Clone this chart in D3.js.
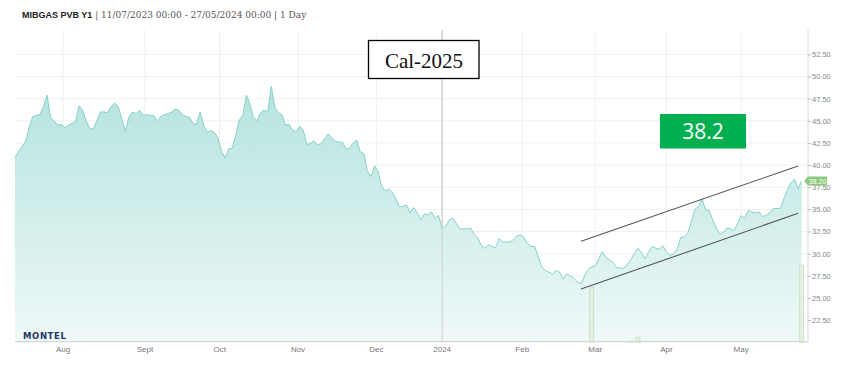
<!DOCTYPE html>
<html><head><meta charset="utf-8">
<script src="https://cdn.jsdelivr.net/npm/d3@7/dist/d3.min.js"></script>
<style>body{margin:0;background:#fff}svg{display:block}</style>
</head><body><svg id="c" width="845" height="368"></svg>
<script>
// Daily closing prices (EUR/MWh), one per trading day, 11/07/2023 - 27/05/2024
const prices = [
40.9,41.5,42.1,42.7,44.3,45.5,45.6,45.7,46.6,47.9,45.3,45.0,44.5,44.6,44.2,44.5,44.7,44.9,46.7,46.2,
45.0,44.1,44.1,45.0,46.0,46.0,45.9,46.6,47.0,46.6,45.2,43.8,45.4,46.0,45.8,46.2,45.6,45.7,45.6,45.6,
45.0,45.5,45.7,45.8,46.0,46.3,46.2,45.7,45.5,45.4,44.7,44.6,46.0,44.5,43.7,43.9,43.7,43.1,41.6,40.8,
41.8,41.9,43.3,45.1,45.6,47.9,46.9,45.4,45.0,45.9,46.2,46.0,48.9,46.5,45.9,45.7,44.5,44.6,43.9,43.8,
44.4,43.9,42.3,42.5,42.7,42.3,42.4,43.0,43.5,43.1,42.7,42.6,42.6,41.8,41.9,42.5,42.8,41.5,41.3,39.3,
38.7,39.9,39.3,37.6,37.1,37.3,36.9,36.2,35.3,35.3,35.5,34.6,35.2,34.6,33.8,34.5,34.4,34.7,34.0,34.3,
32.8,33.1,33.8,34.0,33.4,32.8,32.8,32.8,32.9,32.2,31.8,30.9,30.6,31.0,30.8,30.7,31.7,31.3,31.3,31.3,
31.6,32.0,32.1,31.8,31.1,30.8,30.8,29.6,28.5,28.1,27.9,27.7,28.1,27.9,27.1,27.7,27.5,27.2,26.8,26.6,
27.5,28.2,28.5,28.6,29.4,30.2,29.6,29.3,29.0,28.4,28.4,28.3,28.8,29.3,30.0,30.6,30.1,29.4,30.2,30.8,
30.6,30.5,30.9,30.2,29.8,30.0,30.5,31.8,31.9,32.3,33.6,35.0,35.3,36.2,34.9,34.9,33.8,32.9,32.2,32.4,
32.9,32.8,32.6,33.4,34.3,34.0,34.9,34.7,34.6,34.7,34.2,34.3,34.6,35.1,35.1,35.1,36.2,37.2,38.0,38.4,
37.3,38.2
];
// Volume bars: trading-day index and volume
const volumeDays = [162, 173, 175, 221];
const volumeValues = [55, 1, 5, 77];
// Month tick labels and their trading-day positions
const monthLabels = ["Aug","Sept","Oct","Nov","Dec","2024","Feb","Mar","Apr","May"];
const monthDays = [13.5, 36.5, 57.5, 79.5, 101.5, 120, 142.5, 163, 183, 204];
const yTicks = [22.5,25,27.5,30,32.5,35,37.5,40,42.5,45,47.5,50,52.5];
// Channel trend lines: [startDay, startValue, endDay, endValue]
const upperTrend = [159, 31.4, 220, 39.9];
const lowerTrend = [159, 26.0, 220, 34.55];
const titleBold = "MIBGAS PVB Y1";
const titleRest = " | 11/07/2023 00:00 - 27/05/2024 00:00 | 1 Day";
const calLabel = "Cal-2025";
const lastLabel = "38.2";

const svg = d3.select("#c");
const L = 15, R = 808, T = 32.2, B = 342.2;
const x = d3.scaleLinear().domain([0, prices.length - 1]).range([L, 801.7]);
const y = d3.scaleLinear().domain([20, 55]).range([B, T]);
const yv = d3.scaleLinear().domain([0, 100]).range([0, 100]);

// gradient
const defs = svg.append("defs");
const g = defs.append("linearGradient").attr("id","ag").attr("x1",0).attr("y1",0).attr("x2",0).attr("y2",1)
  .attr("gradientUnits","userSpaceOnUse").attr("y1", 85).attr("y2", B);
g.append("stop").attr("offset","0%").attr("stop-color","#b4e3de");
g.append("stop").attr("offset","100%").attr("stop-color","#eff9f8");

// grid
svg.append("g").selectAll("line").data(yTicks).join("line")
  .attr("x1", L).attr("x2", R).attr("y1", d => y(d)).attr("y2", d => y(d))
  .attr("stroke", "#f0f0f0").attr("stroke-width", 1);
svg.append("g").selectAll("line").data(monthDays).join("line")
  .attr("x1", d => x(d)).attr("x2", d => x(d)).attr("y1", 30).attr("y2", B)
  .attr("stroke", (d,i) => monthLabels[i] === "2024" ? "#d0d0d0" : "#efefef").attr("stroke-width", 1);

// area + line
const area = d3.area().x((d,i) => x(i)).y0(B).y1(d => y(d));
svg.append("path").datum(prices).attr("d", area).attr("fill", "url(#ag)");
const line = d3.line().x((d,i) => x(i)).y(d => y(d));
svg.append("path").datum(prices).attr("d", line).attr("fill","none").attr("stroke","#86d2c9").attr("stroke-width",1);

// 2024 line over area
svg.append("line").attr("x1", x(monthDays[5])).attr("x2", x(monthDays[5])).attr("y1", 30).attr("y2", B)
  .attr("stroke", "#cfcfcf").attr("stroke-width", 1);

// volume bars
svg.append("g").selectAll("rect").data(volumeDays).join("rect")
  .attr("x", d => x(d) - 2).attr("width", 4)
  .attr("y", (d,i) => B - yv(volumeValues[i])).attr("height", (d,i) => yv(volumeValues[i]))
  .attr("fill", "#e4f0e1").attr("stroke", "#c7dcc2").attr("stroke-width", 0.8);

// trend lines
[upperTrend, lowerTrend].forEach(t => {
  svg.append("line").attr("x1", x(t[0])).attr("y1", y(t[1])).attr("x2", x(t[2])).attr("y2", y(t[3]))
    .attr("stroke", "#555").attr("stroke-width", 1.1);
});

// axes
svg.append("line").attr("x1", L).attr("x2", R).attr("y1", B - 0.5).attr("y2", B - 0.5).attr("stroke","#cfcfcf");
svg.append("line").attr("x1", R).attr("x2", R).attr("y1", 30).attr("y2", B).attr("stroke","#d6d6d6");
const yAxis = svg.append("g").attr("transform", `translate(${R},0)`)
  .call(d3.axisRight(y).tickValues(yTicks).tickSize(3).tickPadding(1).tickFormat(d3.format(".2f")));
yAxis.select(".domain").remove();
yAxis.selectAll(".tick line").attr("stroke","#bbb");
yAxis.selectAll("text").attr("fill","#888").style("font","7.5px 'Liberation Sans', Arial, sans-serif");

svg.append("g").selectAll("text").data(monthLabels).join("text")
  .attr("x", (d,i) => x(monthDays[i])).attr("y", 351.5).attr("text-anchor","middle")
  .attr("fill","#777").style("font","8px 'Liberation Sans', Arial, sans-serif").text(d => d);

// last value tag
const ly = y(prices[prices.length - 1]);
svg.append("path").attr("d", `M${R-4},${ly} L${R},${ly-4.5} L${R+19},${ly-4.5} L${R+19},${ly+4.5} L${R},${ly+4.5} Z`)
  .attr("fill", "#8cc97e");
svg.append("text").attr("x", R + 9.5).attr("y", ly + 2.6).attr("text-anchor","middle")
  .attr("fill","#fff").style("font","7px 'Liberation Sans', Arial, sans-serif").text(d3.format(".2f")(prices[prices.length-1]));

// title
const tt = svg.append("text").attr("x", 22).attr("y", 18);
tt.append("tspan").style("font","bold 9px 'Liberation Sans', Arial, sans-serif").attr("fill","#222").text(titleBold);
tt.append("tspan").style("font","9px 'DejaVu Serif', Georgia, serif").attr("fill","#555").attr("font-size","8.3px").text(titleRest);

// logo
svg.append("text").attr("x", 23).attr("y", 339).attr("fill","#1d3567")
  .style("font","bold 8.5px 'DejaVu Sans', sans-serif").attr("letter-spacing","0.6").text("MONTEL");

// Cal-2025 box
svg.append("rect").attr("x", 368.5).attr("y", 40.5).attr("width", 110.5).attr("height", 38)
  .attr("fill","#fff").attr("stroke","#000").attr("stroke-width",1.3);
svg.append("text").attr("x", 424).attr("y", 67.5).attr("text-anchor","middle")
  .style("font","21px 'Liberation Serif', 'DejaVu Serif', serif").attr("fill","#111").text(calLabel);

// green label
svg.append("rect").attr("x", 660).attr("y", 114).attr("width", 86).attr("height", 34.5).attr("fill","#00b050");
svg.append("text").attr("x", 703).attr("y", 139).attr("text-anchor","middle")
  .style("font","21px 'Open Sans', 'Liberation Sans', sans-serif").attr("fill","#fff").text(lastLabel);
</script></body></html>
